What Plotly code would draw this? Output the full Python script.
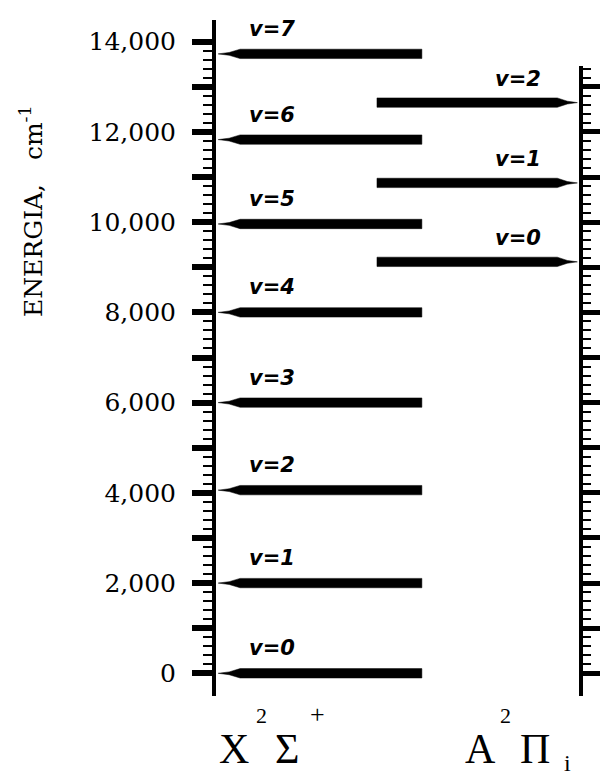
import plotly.graph_objects as go

# ---------------- data ----------------
x_state_v = [0, 1, 2, 3, 4, 5, 6, 7]
x_state_energy = [0, 2000, 4060, 6000, 8000, 9960, 11830, 13730]
a_state_v = [0, 1, 2]
a_state_energy = [9120, 10870, 12650]

left_tickvals = [0, 1000, 2000, 3000, 4000, 5000, 6000, 7000, 8000, 9000,
                 10000, 11000, 12000, 13000, 14000]
left_ticktext = ["0", "", "2,000", "", "4,000", "", "6,000", "", "8,000", "",
                 "10,000", "", "12,000", "", "14,000"]
right_tickvals = [0, 1000, 2000, 3000, 4000, 5000, 6000, 7000, 8000, 9000,
                  10000, 11000, 12000, 13000]

# state symbol pieces: (text, role)
x_state_symbol = [("X", "main"), ("2", "sup"), ("\u03a3", "main"), ("+", "plus")]
a_state_symbol = [("A", "main"), ("2", "sup"), ("\u03a0", "main"), ("i", "sub")]
axis_title = "ENERGIA,&nbsp;&nbsp;&nbsp;cm<sup>-1</sup>"

# ---------------- geometry / style ----------------
W, H = 600, 772
ML, MR, MT, MB = 216, 19, 20, 76
PW, PH = W - ML - MR, H - MT - MB
Y_RANGE = [-503, 14481]
HALF = 104          # half thickness of a level bar (energy units)
X_TIP, X_FULL, X_END = 0.006, 0.066, 0.564      # X-state bars (arrow at left)
A_START, A_FULL, A_TIP = 0.441, 0.935, 0.990    # A-state bars (arrow at right)

left_minor = [v for v in range(200, 14000, 200) if v % 1000]
right_minor = [v for v in range(200, 13500, 200) if v % 1000]

# pixel centres of the symbol pieces
X_SYM_PX = [234, 261, 287, 317]
A_SYM_PX = [480, 505, 535, 567]
ROLE_Y = {"main": 749, "sup": 715, "plus": 714, "sub": 763}
ROLE_SIZE = {"main": 42, "sup": 22, "plus": 26, "sub": 24}


def bar_left_arrow(e):
    xs = [X_TIP, X_TIP + 0.5 * (X_FULL - X_TIP), X_FULL, X_END, X_END,
          X_FULL, X_TIP + 0.5 * (X_FULL - X_TIP), X_TIP]
    ys = [e, e + 0.3 * HALF, e + HALF, e + HALF, e - HALF, e - HALF,
          e - 0.3 * HALF, e]
    return xs, ys


def bar_right_arrow(e):
    xs = [A_TIP, A_TIP - 0.5 * (A_TIP - A_FULL), A_FULL, A_START, A_START,
          A_FULL, A_TIP - 0.5 * (A_TIP - A_FULL), A_TIP]
    ys = [e, e + 0.3 * HALF, e + HALF, e + HALF, e - HALF, e - HALF,
          e - 0.3 * HALF, e]
    return xs, ys


fig = go.Figure()

for v, e in zip(x_state_v, x_state_energy):
    xs, ys = bar_left_arrow(e)
    fig.add_trace(go.Scatter(x=xs, y=ys, mode="lines", fill="toself",
                             fillcolor="black", line=dict(color="black", width=0.5),
                             hoverinfo="skip", yaxis="y"))

for v, e in zip(a_state_v, a_state_energy):
    xs, ys = bar_right_arrow(e)
    fig.add_trace(go.Scatter(x=xs, y=ys, mode="lines", fill="toself",
                             fillcolor="black", line=dict(color="black", width=0.5),
                             hoverinfo="skip", yaxis="y2"))

LABEL_FONT = dict(family="DejaVu Sans", size=21, color="black")
annotations = []
for v, e in zip(x_state_v, x_state_energy):
    annotations.append(dict(x=0.153, y=e, xref="x", yref="y", yshift=25,
                            text=f"<b><i>v={v}</i></b>", showarrow=False,
                            xanchor="center", yanchor="middle", font=LABEL_FONT))
for v, e in zip(a_state_v, a_state_energy):
    annotations.append(dict(x=0.827, y=e, xref="x", yref="y", yshift=24,
                            text=f"<b><i>v={v}</i></b>", showarrow=False,
                            xanchor="center", yanchor="middle", font=LABEL_FONT))

for symbol, pxs in ((x_state_symbol, X_SYM_PX), (a_state_symbol, A_SYM_PX)):
    for (txt, role), px in zip(symbol, pxs):
        annotations.append(dict(x=(px - ML) / PW, y=0, xref="paper", yref="paper",
                                yshift=-(ROLE_Y[role] - (MT + PH)),
                                text=txt, showarrow=False,
                                xanchor="center", yanchor="middle",
                                font=dict(family="Liberation Serif",
                                          size=ROLE_SIZE[role], color="black")))

annotations.append(dict(x=(31 - ML) / PW, y=(MT + PH - 211) / PH,
                        xref="paper", yref="paper",
                        text=axis_title, textangle=-90, showarrow=False,
                        xanchor="center", yanchor="middle",
                        font=dict(family="DejaVu Serif", size=25, color="black")))

fig.update_layout(
    width=W, height=H,
    margin=dict(l=ML, r=MR, t=MT, b=MB, autoexpand=False),
    paper_bgcolor="white", plot_bgcolor="white",
    showlegend=False,
    xaxis=dict(range=[0, 1], visible=False, fixedrange=True),
    yaxis=dict(range=Y_RANGE, tickmode="array", tickvals=left_tickvals,
               ticktext=left_ticktext, ticks="outside", ticklen=20, tickwidth=6,
               tickcolor="black", showline=True, linewidth=4, linecolor="black",
               showgrid=False, zeroline=False, ticklabelstandoff=11,
               automargin=False,
               tickfont=dict(family="DejaVu Serif", size=25, color="black"),
               minor=dict(tickmode="array", tickvals=left_minor, ticks="outside",
                          ticklen=9, tickwidth=2, tickcolor="black", showgrid=False)),
    yaxis2=dict(range=Y_RANGE, overlaying="y", side="right", anchor="x",
                tickmode="array", tickvals=right_tickvals, showticklabels=False,
                ticks="outside", ticklen=20, tickwidth=5, tickcolor="black",
                showline=False, showgrid=False, zeroline=False, automargin=False,
                minor=dict(tickmode="array", tickvals=right_minor, ticks="outside",
                           ticklen=9, tickwidth=2, tickcolor="black", showgrid=False)),
    shapes=[dict(type="line", xref="paper", yref="y2", x0=1, x1=1,
                 y0=Y_RANGE[0], y1=13460, line=dict(color="black", width=4))],
    annotations=annotations,
)

fig.write_html("out.html", config={"displayModeBar": False},
               post_script="document.body.style.margin='0';document.body.style.overflow='hidden';")
